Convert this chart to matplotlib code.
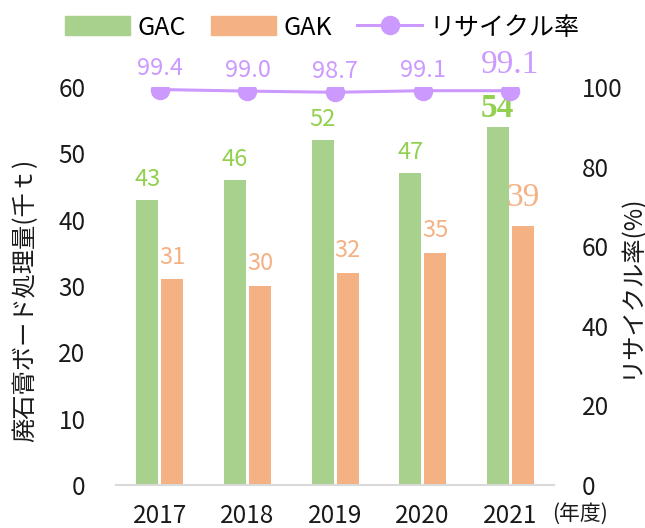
import matplotlib
matplotlib.use("Agg")
import matplotlib.pyplot as plt
import numpy as np
from matplotlib.patches import Patch
from matplotlib.lines import Line2D

plt.rcParams['font.family'] = ['Noto Sans CJK JP', 'DejaVu Sans']

years = ["2017", "2018", "2019", "2020", "2021"]
gac = [43, 46, 52, 47, 54]
gak = [31, 30, 32, 35, 39]
rate = [99.4, 99.0, 98.7, 99.1, 99.1]
rate_labels = ["99.4", "99.0", "98.7", "99.1", "99.1"]

c_gac = "#a9d18e"
c_gak = "#f4b183"
c_gac_txt = "#92d050"
c_gak_txt = "#f4b183"
c_rate = "#cc99ff"
c_txt = "#1a1a1a"

fig = plt.figure(figsize=(6.45, 5.28), dpi=100)
ax = fig.add_axes([0.180, 0.0814, 0.679, 0.7536])
ax2 = ax.twinx()

x = np.arange(len(years))
w = 0.25
gap = 0.035
xg = x - w / 2 - gap / 2
xk = x + w / 2 + gap / 2
ax.bar(xg, gac, width=w, color=c_gac, zorder=2)
ax.bar(xk, gak, width=w, color=c_gak, zorder=2)

ax.set_xlim(-0.5, len(years) - 0.5)
ax.set_ylim(0, 60)
ax.set_yticks(range(0, 61, 10))
ax.set_xticks(x)
ax.set_xticklabels(years)
ax.tick_params(axis='both', length=0, labelsize=17.5, colors=c_txt)
ax.tick_params(axis='y', pad=22)
ax.tick_params(axis='x', pad=13)
for s in ["top", "left", "right"]:
    ax.spines[s].set_visible(False)
ax.spines["bottom"].set_color("#d9d9d9")
ax.spines["bottom"].set_linewidth(1.5)

ax2.set_ylim(0, 100)
ax2.set_yticks(range(0, 101, 20))
ax2.tick_params(axis='y', length=0, labelsize=17.5, colors=c_txt, pad=20)
for s in ["top", "left", "right", "bottom"]:
    ax2.spines[s].set_visible(False)
ax2.plot(x, rate, color=c_rate, lw=2.2, marker='o', markersize=13, zorder=3)

# labels
for i in range(len(years)):
    last = i == len(years) - 1
    if last:
        ax.text(xg[i], gac[i] + 0.5, str(gac[i]), ha='center', va='bottom',
                color=c_gac_txt, fontsize=24, fontweight='bold', family='Liberation Serif')
        ax.text(xk[i], gak[i] + 2.0, str(gak[i]), ha='center', va='bottom',
                color=c_gak_txt, fontsize=24, family='Liberation Serif')
        ax2.text(x[i], rate[i] + 2.6, rate_labels[i], ha='center', va='bottom',
                 color=c_rate, fontsize=24, family='Liberation Serif')
    else:
        ax.text(xg[i], gac[i] + 1.4, str(gac[i]), ha='center', va='bottom',
                color=c_gac_txt, fontsize=17)
        ax.text(xk[i], gak[i] + 1.6, str(gak[i]), ha='center', va='bottom',
                color=c_gak_txt, fontsize=17)
        ax2.text(x[i], rate[i] + 2.3, rate_labels[i], ha='center', va='bottom',
                 color=c_rate, fontsize=17)

fig.text(25 / 645, 1 - 300 / 528, "廃石膏ボード処理量(千ｔ)", fontsize=17.5, color=c_txt,
         rotation=90, ha='center', va='center')
fig.text(631 / 645, 1 - 286 / 528, "リサイクル率(%)", fontsize=17.5, color=c_txt,
         rotation=90, ha='center', va='center')

fig.text(580 / 645, 1 - 514 / 528, "(年度)", fontsize=15,
         color=c_txt, ha='center', va='center')

handles = [Patch(color=c_gac), Patch(color=c_gak),
           Line2D([0], [0], color=c_rate, lw=2.2, marker='o', markersize=13)]
fig.legend(handles, ["GAC", "GAK", "リサイクル率"], loc='upper center',
           bbox_to_anchor=(0.5, 1.015), ncol=3, frameon=False, fontsize=18,
           handlelength=2.6, handleheight=0.8, columnspacing=1.0, handletextpad=0.3)

fig.savefig("out.png", dpi=100)
